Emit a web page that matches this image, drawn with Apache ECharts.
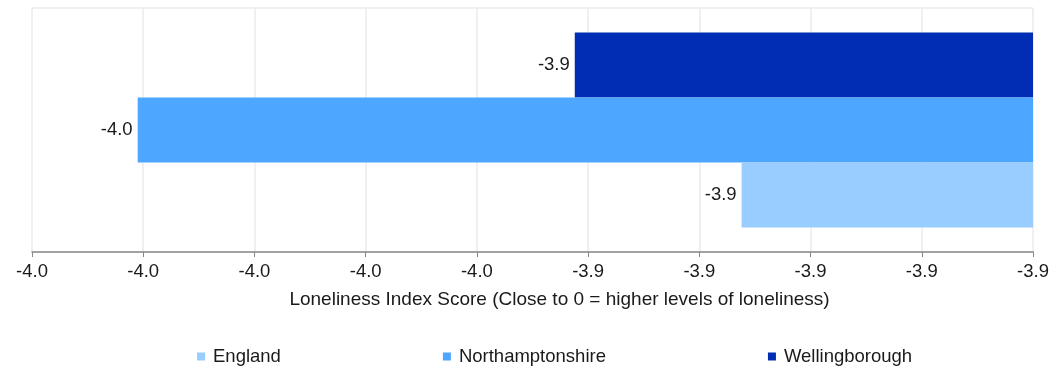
<!DOCTYPE html>
<html>
<head>
<meta charset="utf-8">
<script src="https://cdn.jsdelivr.net/npm/echarts@6/dist/echarts.min.js"></script>
<style>
html,body{margin:0;padding:0;background:#fff;}
#chart{width:1059px;height:366px;}
</style>
</head>
<body>
<div id="chart"></div>
<script>
var categories = [''];
var seriesNames = ['England', 'Northamptonshire', 'Wellingborough'];
var englandValues = [-3.9262];
var northamptonshireValues = [-3.9805];
var wellingboroughValues = [-3.9412];
var tickLabels = ['-4.0','-4.0','-4.0','-4.0','-4.0','-3.9','-3.9','-3.9','-3.9','-3.9'];
var axisMin = -3.99, axisMax = -3.90, axisInterval = 0.01;
var axisTitle = 'Loneliness Index Score (Close to 0 = higher levels of loneliness)';
var colors = ['#99ccff', '#4da6ff', '#002db3'];

var font = 'Liberation Sans, Arial, sans-serif';
var fs = 18.5;
var chart = echarts.init(document.getElementById('chart'), null, {renderer: 'canvas'});

function mkSeries(name, data, color) {
  return {
    name: name,
    type: 'bar',
    data: data,
    barGap: '0%',
    barCategoryGap: '20%',
    itemStyle: {color: color},
    label: {
      show: true,
      position: 'left',
      distance: 5,
      color: '#1a1a1a',
      fontFamily: font,
      fontSize: fs,
      formatter: function (p) { return p.value.toFixed(1); }
    }
  };
}

chart.setOption({
  animation: false,
  grid: {left: 32, right: 26, top: 8, bottom: 114, containLabel: false},
  legend: {
    data: seriesNames,
    left: 192,
    top: 342,
    itemWidth: 8,
    itemHeight: 8,
    itemGap: 162,
    icon: 'rect',
    textStyle: {fontFamily: font, fontSize: 18.5, color: '#1a1a1a', padding: [0,0,0,3]}
  },
  xAxis: {
    type: 'value',
    min: axisMin,
    max: axisMax,
    interval: axisInterval,
    name: axisTitle,
    nameLocation: 'middle',
    nameGap: 38,
    nameTextStyle: {fontFamily: font, fontSize: 19, color: '#1a1a1a', padding: [0,0,0,54]},
    axisLine: {show: true, lineStyle: {color: '#888', width: 1.5}},
    axisTick: {show: true, length: 5, lineStyle: {color: '#888'}},
    axisLabel: {
      fontFamily: font, fontSize: fs, color: '#1a1a1a', margin: 10,
      formatter: function (v) {
        var i = Math.round((v - axisMin) / axisInterval);
        return tickLabels[i] !== undefined ? tickLabels[i] : v.toFixed(1);
      }
    },
    splitLine: {show: true, lineStyle: {color: '#ebebeb', width: 1.5}}
  },
  yAxis: {
    type: 'category',
    data: categories,
    axisLine: {show: false},
    axisTick: {show: false},
    axisLabel: {show: false},
    splitLine: {show: true, lineStyle: {color: '#ebebeb', width: 1.5}}
  },
  series: [
    mkSeries(seriesNames[2], wellingboroughValues, colors[2]),
    mkSeries(seriesNames[1], northamptonshireValues, colors[1]),
    mkSeries(seriesNames[0], englandValues, colors[0])
  ]
});
</script>
</body>
</html>
